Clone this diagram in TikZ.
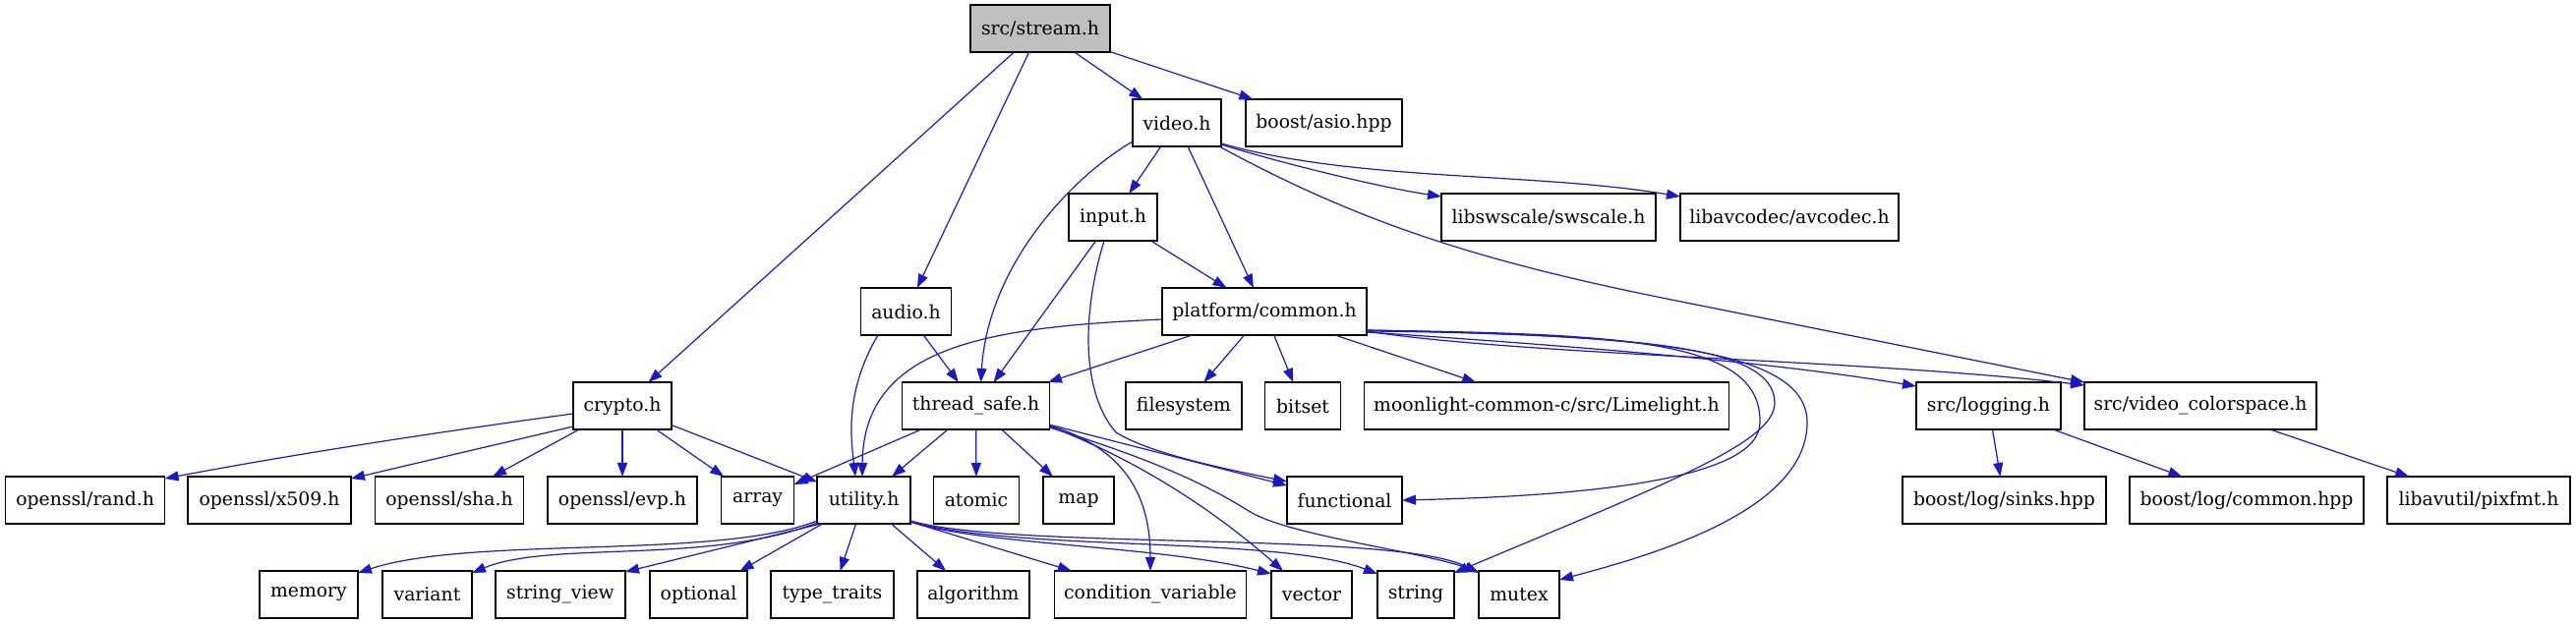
\documentclass[tikz,border=0pt]{standalone}
\usepackage{fontspec}
\setmainfont{DejaVu Serif}
\usetikzlibrary{arrows.meta,calc}
\definecolor{edgeblue}{RGB}{24,24,204}
\definecolor{rootgray}{RGB}{191,191,191}
\begin{document}
\begin{tikzpicture}[x=0.5pt,y=-0.5pt,
  box/.style={draw=black,line width=0.8pt,fill=white,minimum height=24pt,inner sep=0pt,outer sep=0pt,font=\fontsize{9.4}{11}\selectfont},
  wd/.style={minimum width=#1*0.5pt},
  edge/.style={draw=edgeblue,line width=0.6pt,-{Triangle[length=7pt,width=5pt]}}]
\useasboundingbox (0,0) rectangle (2620,635);
% row 0
\node[box,wd=142,fill=rootgray] (stream) at (1058,29) {src/stream.h};
% row 1
\node[box,wd=90] (video) at (1197,125) {video.h};
\node[box,wd=159] (asio) at (1346.5,125) {boost/asio.hpp};
% row 2
\node[box,wd=90] (input) at (1132,221) {input.h};
\node[box,wd=218] (swscale) at (1575,221) {libswscale/swscale.h};
\node[box,wd=222] (avcodec) at (1820,221) {libavcodec/avcodec.h};
% row 3
\node[box,wd=92] (audio) at (921.5,317) {audio.h};
\node[box,wd=208] (pc) at (1286,317) {platform/common.h};
% row 4
\node[box,wd=100] (crypto) at (633,413) {crypto.h};
\node[box,wd=150] (ts) at (992.6,413) {thread\_safe.h};
\node[box,wd=118] (filesystem) at (1204,413) {filesystem};
\node[box,wd=77] (bitset) at (1325,413) {bitset};
\node[box,wd=371] (limelight) at (1573,413) {moonlight-common-c/src/Limelight.h};
\node[box,wd=147] (logging) at (2022.5,413) {src/logging.h};
\node[box,wd=236] (colorspace) at (2238,413) {src/video\_colorspace.h};
% row 5
\node[box,wd=162] (rand) at (86.6,509) {openssl/rand.h};
\node[box,wd=166] (x509) at (274,509) {openssl/x509.h};
\node[box,wd=151] (sha) at (457,509) {openssl/sha.h};
\node[box,wd=152] (evp) at (633,509) {openssl/evp.h};
\node[box,wd=74] (array) at (770.6,509) {array};
\node[box,wd=95] (utility) at (878.6,509) {utility.h};
\node[box,wd=87] (atomic) at (993,509) {atomic};
\node[box,wd=72] (map) at (1097,509) {map};
\node[box,wd=117] (functional) at (1367.5,509) {functional};
\node[box,wd=207] (sinks) at (2038.5,509) {boost/log/sinks.hpp};
\node[box,wd=238] (common) at (2285,509) {boost/log/common.hpp};
\node[box,wd=186] (pixfmt) at (2521,509) {libavutil/pixfmt.h};
% row 6
\node[box,wd=100] (memory) at (314,605) {memory};
\node[box,wd=91] (variant) at (434.5,605) {variant};
\node[box,wd=132] (stringview) at (570,605) {string\_view};
\node[box,wd=99] (optional) at (710.5,605) {optional};
\node[box,wd=125] (typetraits) at (846.5,605) {type\_traits};
\node[box,wd=114] (algorithm) at (990,605) {algorithm};
\node[box,wd=195] (condvar) at (1170,605) {condition\_variable};
\node[box,wd=82] (vector) at (1334,605) {vector};
\node[box,wd=78] (string) at (1440,605) {string};
\node[box,wd=82] (mutex) at (1545,605) {mutex};

% stream.h
\draw[edge] (stream) -- (crypto);
\draw[edge] (stream) -- (audio);
\draw[edge] (stream) -- (video);
\draw[edge] (stream) -- (asio);
% video.h
\draw[edge] (video) -- (input);
\draw[edge] (video) -- (pc);
\draw[edge] ($(video.south west)+(0,-5)$) .. controls (1090,180) and (1005,270) .. ($(ts.north)+(5,0)$);
\draw[edge] ($(video.south east)+(0,-2)$) .. controls (1300,165) and (1400,190) .. ($(swscale.north west)+(0,3)$);
\draw[edge] ($(video.south east)+(0,-3)$) .. controls (1380,185) and (1560,175) .. ($(avcodec.north west)+(0,3)$);
\draw[edge] ($(video.south east)+(-2,0)$) .. controls (1380,225) and (1500,265) .. (1700,305) -- (colorspace.north west);
% input.h
\draw[edge] (input) -- (pc);
\draw[edge] (input) -- ($(ts.north)+(18,0)$);
\draw[edge] ($(input.south)+(-9,0)$) .. controls (1100,320) and (1100,400) .. (1135,440) .. controls (1170,462) and (1250,478) .. ($(functional.north west)+(0,5)$);
% audio.h
\draw[edge] (audio) -- (ts);
\draw[edge] ($(audio.south)+(-28.5,0)$) .. controls (858,400) and (866,450) .. ($(utility.north)+(-8.6,0)$);
% platform/common.h
\draw[edge] (pc) -- (ts);
\draw[edge] ($(pc.west)+(0,8)$) .. controls (1010,333) and (878,350) .. ($(utility.north)+(-1.6,0)$);
\draw[edge] (pc) -- (filesystem);
\draw[edge] (pc) -- (bitset);
\draw[edge] (pc) -- (limelight);
\draw[edge] ($(pc.south east)+(0,-3)$) .. controls (1600,352) and (1800,368) .. ($(logging.north west)+(0,4)$);
\draw[edge] ($(pc.south east)+(0,-4)$) .. controls (1550,362) and (1900,366) .. ($(colorspace.north west)+(0,3)$);
\draw[edge] ($(pc.south east)+(0,-5)$) .. controls (1650,340) and (1792,345) .. (1790,430) .. controls (1790,490) and (1600,505) .. (functional.east);
\draw[edge] ($(pc.south east)+(0,-5)$) .. controls (1660,342) and (1805,350) .. (1805,410) .. controls (1805,450) and (1700,490) .. ($(string.north east)+(0,2)$);
\draw[edge] ($(pc.south east)+(0,-4)$) .. controls (1700,340) and (1838,360) .. (1838,430) .. controls (1838,520) and (1680,565) .. ($(mutex.east)+(0,-15)$);
% crypto.h
\draw[edge] ($(crypto.west)+(0,8)$) .. controls (450,439) and (300,462) .. ($(rand.north east)+(0,2)$);
\draw[edge] ($(crypto.west)+(0,21)$) -- ($(x509.north east)+(0,2)$);
\draw[edge] (crypto) -- (sha);
\draw[edge] (crypto) -- (evp);
\draw[edge] (crypto) -- (array);
\draw[edge] (crypto) -- (utility);
% thread_safe.h
\draw[edge] (ts) -- (array);
\draw[edge] (ts) -- (utility);
\draw[edge] (ts) -- (atomic);
\draw[edge] (ts) -- (map);
\draw[edge] (ts) -- (functional);
\draw[edge] ($(ts.south east)+(0,-4)$) .. controls (1140,455) and (1170,500) .. (condvar.north);
\draw[edge] ($(ts.south east)+(0,-3)$) .. controls (1150,465) and (1230,515) .. ($(vector.north west)+(12,0)$);
\draw[edge] ($(ts.south east)+(0,-2)$) .. controls (1180,470) and (1230,495) .. (1270,520) .. controls (1310,545) and (1440,560) .. ($(mutex.north west)+(0,1)$);
% utility.h
\draw[edge] ($(utility.south west)+(0,-3)$) .. controls (730,570) and (480,545) .. ($(memory.north east)+(0,2)$);
\draw[edge] ($(utility.south west)+(0,-1)$) .. controls (720,575) and (560,550) .. ($(variant.north east)+(0,2)$);
\draw[edge] ($(utility.south west)+(3.5,0)$) -- ($(stringview.north east)+(0,1)$);
\draw[edge] (utility) -- (optional);
\draw[edge] (utility) -- (typetraits);
\draw[edge] (utility) -- (algorithm);
\draw[edge] ($(utility.east)+(0,22)$) -- ($(condvar.north)+(-80,0)$);
\draw[edge] ($(utility.south east)+(0,-2)$) .. controls (1000,555) and (1180,555) .. ($(vector.north west)+(0,3)$);
\draw[edge] ($(utility.south east)+(0,-2)$) .. controls (1040,562) and (1300,545) .. ($(string.north west)+(0,3)$);
\draw[edge] ($(utility.south east)+(0,-3)$) .. controls (1030,560) and (1420,540) .. ($(mutex.north west)+(0,2)$);
% logging / colorspace
\draw[edge] (logging) -- (sinks);
\draw[edge] (logging) -- (common);
\draw[edge] (colorspace) -- (pixfmt);
\end{tikzpicture}
\end{document}
